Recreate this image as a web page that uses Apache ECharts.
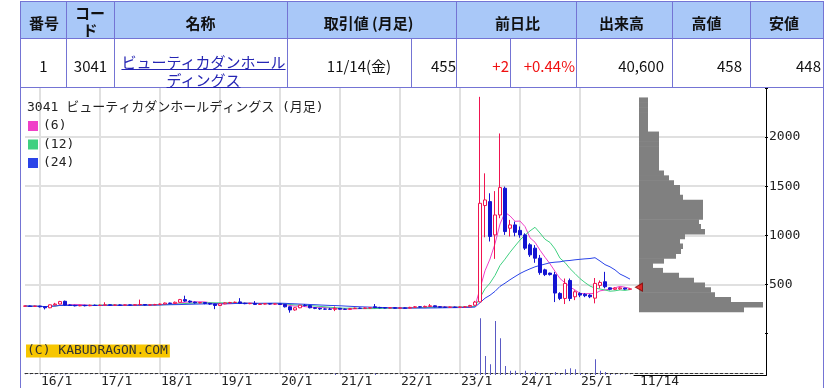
<!DOCTYPE html>
<html><head><meta charset="utf-8">
<script src="https://cdn.jsdelivr.net/npm/echarts@6/dist/echarts.min.js"></script>
<style>
html,body{margin:0;padding:0;background:#fff;}
#wrap{position:relative;width:828px;height:388px;overflow:hidden;font-family:"Noto Sans CJK JP","Noto Sans",sans-serif;}
#chart{position:absolute;left:0;top:0;width:828px;height:388px;}
.hb{position:absolute;left:21px;top:2px;width:802px;height:36px;background:#a9c8f8;}
.b{position:absolute;background:#7474d4;}
.t{position:absolute;white-space:nowrap;font-size:15px;line-height:18px;color:#111;}
.h{font-weight:bold;}
.c{transform:translateX(-50%);text-align:center;}
.r{text-align:right;}
.red{color:#f01010;}
.lnk{color:#2626b4;text-decoration:underline;}
</style></head><body>
<div id="wrap">
<div id="chart"></div>
<div class="hb"></div>
<div class="b" style="left:20px;top:1px;width:804px;height:1px"></div>
<div class="b" style="left:20px;top:38px;width:804px;height:1px"></div>
<div class="b" style="left:20px;top:87px;width:804px;height:1px"></div>
<div class="b" style="left:20px;top:1px;width:1px;height:387px"></div>
<div class="b" style="left:823px;top:1px;width:1px;height:387px"></div>
<div class="b" style="left:66px;top:1px;width:1px;height:87px"></div>
<div class="b" style="left:114px;top:1px;width:1px;height:87px"></div>
<div class="b" style="left:287px;top:1px;width:1px;height:87px"></div>
<div class="b" style="left:456px;top:1px;width:1px;height:87px"></div>
<div class="b" style="left:576px;top:1px;width:1px;height:87px"></div>
<div class="b" style="left:672px;top:1px;width:1px;height:87px"></div>
<div class="b" style="left:750px;top:1px;width:1px;height:87px"></div>
<div class="b" style="left:411px;top:38px;width:1px;height:50px"></div>
<div class="b" style="left:510px;top:38px;width:1px;height:50px"></div>

<div class="t h c" style="left:44px;top:14px">番号</div>
<div class="t h c" style="left:90px;top:4px;line-height:17px">コー<br>ド</div>
<div class="t h c" style="left:200.5px;top:14px">名称</div>
<div class="t h c" style="left:368.5px;top:14px">取引値 (月足)</div>
<div class="t h c" style="left:517.5px;top:14px">前日比</div>
<div class="t h c" style="left:621.5px;top:14px">出来高</div>
<div class="t h c" style="left:706.5px;top:14px">高値</div>
<div class="t h c" style="left:784px;top:14px">安値</div>

<div class="t c" style="left:43.5px;top:57px">1</div>
<div class="t c" style="left:90.5px;top:57px">3041</div>
<div class="t c lnk" style="left:203.5px;top:53px">ビューティカダンホール<br>ディングス</div>
<div class="t c" style="left:359px;top:57px">11/14(金)</div>
<div class="t r" style="right:372px;top:57px">455</div>
<div class="t r red" style="right:319px;top:57px">+2</div>
<div class="t r red" style="right:253px;top:57px">+0.44%</div>
<div class="t r" style="right:164px;top:57px">40,600</div>
<div class="t r" style="right:86px;top:57px">458</div>
<div class="t r" style="right:7px;top:57px">448</div>
</div>
<script>
// ---- data (monthly candles from 2015/10) ----
const startYear = 2015, startMonth = 10;
const opens = [
 278,280,276,279,272,262,292,300,328,290,
 286,282,286,283,288,285,288,292,288,290,
 288,291,289,293,295,290,292,295,300,310,
 306,318,345,330,320,312,315,306,300,285,
 302,312,316,322,308,304,306,296,300,304,
 300,302,296,272,240,262,288,284,262,256,
 250,248,246,256,248,246,254,258,256,260,
 272,264,262,260,262,258,260,258,266,272,
 270,276,282,272,268,266,268,266,270,272,
 288,322,1303,1343,1004,1207,1479,1072,1106,1050,
 1004,903,869,767,648,615,598,408,357,540,
 374,408,400,391,360,490,527,465,450,455,
 462,450];
const closes = [
 280,276,279,272,262,292,300,325,290,286,
 282,286,283,288,285,288,292,288,290,288,
 291,289,293,295,290,292,295,300,310,306,
 318,345,330,320,312,315,306,300,285,302,
 312,316,318,308,304,306,296,300,304,300,
 302,296,272,240,262,288,284,262,256,250,
 248,246,256,248,246,254,258,256,260,262,
 264,262,260,262,258,260,258,266,272,270,
 276,282,272,268,266,268,266,270,272,285,
 320,1326,1360,988,1207,1486,1038,1106,1030,1004,
 869,801,767,620,600,600,412,357,510,357,
 425,391,385,374,510,520,476,450,462,465,
 452,455];
const lows = [
 272,270,270,265,245,258,285,296,285,280,
 276,278,276,278,280,280,284,282,282,282,
 283,284,285,287,285,286,288,290,296,300,
 302,314,322,312,305,306,298,292,248,280,
 298,306,310,300,298,298,290,292,295,295,
 294,290,265,212,232,258,276,256,248,240,
 242,242,228,242,240,242,250,250,252,254,
 258,256,255,255,252,253,252,254,262,264,
 266,270,268,262,260,260,260,260,264,268,
 284,318,980,937,760,1174,1004,988,990,975,
 850,780,720,598,585,590,320,340,300,330,
 340,370,370,360,307,460,460,440,442,445,
 445,448];
const highs = [
 285,284,284,283,275,295,312,332,335,296,
 292,292,292,294,295,296,318,298,296,297,
 296,296,300,345,300,298,302,306,316,314,
 326,352,385,338,325,322,320,312,304,310,
 318,322,326,360,314,312,330,306,310,308,
 308,306,300,276,268,292,300,290,268,262,
 256,262,275,260,254,260,264,264,266,268,
 300,272,268,268,266,266,265,272,280,278,
 284,300,286,278,274,274,274,276,280,292,
 332,2410,1631,1428,1450,2037,1496,1157,1140,1090,
 1020,920,900,800,660,620,628,420,560,560,
 440,420,410,400,565,540,628,470,470,472,
 466,458];
// monthly volume (units of 100k shares, estimated)
const volumes = [
 0.3,0.3,0.3,0.4,0.5,0.6,0.4,0.6,0.5,0.3,
 0.3,0.3,0.3,0.3,0.3,0.3,0.5,0.3,0.3,0.3,
 0.3,0.3,0.3,0.6,0.3,0.3,0.3,0.3,0.4,0.3,
 0.4,0.6,0.8,0.4,0.3,0.3,0.3,0.3,0.6,0.4,
 0.3,0.3,0.3,0.5,0.3,0.3,0.4,0.3,0.3,0.3,
 0.3,0.3,0.5,0.8,0.5,0.5,0.4,0.4,0.3,0.3,
 0.3,0.3,1.5,0.4,0.3,0.3,0.3,0.3,0.3,0.3,
 1.5,0.3,0.3,0.3,0.3,0.3,0.3,0.3,0.4,0.3,
 0.3,0.5,0.3,0.3,0.3,0.3,0.3,0.3,0.4,0.6,
 1.5,56.7,19,10.7,54,36.7,9,4.3,4.3,1.7,
 4.3,1.7,3,1.7,0.8,1,3,1,5.7,6.7,
 5.7,2,1,1,15.7,4.3,3,1,0.8,0.8,
 0.6,0.3];
// volume-by-price profile, bins of 50 from 0 to 2500
const profileStep = 50;
const profileVolume = [
 0,0,0,0,105,124,92,76,72,66,
 55,40,24,14,25,37,42,44,41,46,
 66,62,60,64,64,64,64,44,41,41,
 35,30,25,20,20,20,20,20,20,20,
 20,9,9,9,9,9,9,9,0,0];
const yTickLabels = [500,1000,1500,2000];
const maPeriods = [6,12,24];
const maNames = ['(6)','(12)','(24)'];
const maColors = ['#f040c8','#40d080','#2a44e8'];
const dateLabel = '11/14';
const chartTitle = '3041 ビューティカダンホールディングス (月足)';
const copyright = '(C) KABUDRAGON.COM';
const totalSlots = 149;

// ---- build ----
const cats = [];
for (let i = 0; i < totalSlots; i++) {
  if (i < closes.length) {
    const m = startMonth - 1 + i;
    cats.push((startYear + Math.floor(m / 12)) + '/' + (m % 12 + 1));
  } else cats.push('');
}
const isJan = v => typeof v === 'string' && /\/1$/.test(v);
const ohlc = opens.map((o, i) => [o, closes[i], lows[i], highs[i]]);
function movingAverage(n) {
  return closes.map((c, i) => {
    const s = Math.max(0, i - n + 1);
    let sum = 0;
    for (let j = s; j <= i; j++) sum += closes[j];
    return +(sum / (i - s + 1)).toFixed(1);
  });
}
const profileData = profileVolume.map((v, k) => [k * profileStep, v]);
const mono = '"DejaVu Sans Mono","Noto Sans CJK JP",monospace';

const chart = echarts.init(document.getElementById('chart'), null, {renderer: 'canvas'});
const option = {
  animation: false,
  backgroundColor: 'transparent',
  textStyle: {fontFamily: mono},
  title: [
    {text: chartTitle, left: 27, top: 101, padding: 0,
     textStyle: {fontFamily: mono, fontSize: 13, fontWeight: 'normal', color: '#222', lineHeight: 14}},
    {text: copyright, left: 26, top: 345, padding: [0, 2, 0, 1], backgroundColor: '#f7c600',
     textStyle: {fontFamily: mono, fontSize: 13, fontWeight: 'normal', color: '#333', lineHeight: 12}}
  ],
  legend: {
    left: 28, top: 119, orient: 'vertical', icon: 'rect', itemWidth: 10, itemHeight: 10,
    itemGap: 4.5, padding: 0, selectedMode: false,
    textStyle: {fontFamily: mono, fontSize: 13, color: '#222', lineHeight: 14},
    data: maNames.map((n, k) => ({name: n, itemStyle: {color: maColors[k]}}))
  },
  grid: [
    {left: 25, right: 63, top: 88, bottom: 54.5},
    {left: 25, right: 63, top: 315, bottom: 13},
    {left: 639, right: 63, top: 88, bottom: 54.5},
    {left: 634, right: 61.5, top: 88, bottom: 13},
    {left: 25.5, right: 62.5, top: 315, bottom: 13}
  ],
  xAxis: [
    {gridIndex: 0, type: 'category', data: cats, boundaryGap: false,
     axisLine: {show: false}, axisTick: {show: false}, axisLabel: {show: false},
     splitLine: {show: true, interval: (i, v) => isJan(v), lineStyle: {color: '#e0e0e0', width: 2}}},
    {gridIndex: 1, type: 'category', data: cats, boundaryGap: false,
     axisLine: {show: true, onZero: false, lineStyle: {color: '#333', width: 1, type: [3, 2]}},
     axisTick: {show: false},
     axisLabel: {show: true, interval: 0, align: 'left', margin: 2, padding: [0, 0, 0, 1],
       fontFamily: mono, fontSize: 13, color: '#222',
       formatter: v => isJan(v) ? v.slice(2, 4) + '/1' : ''},
     splitLine: {show: true, interval: (i, v) => isJan(v), lineStyle: {color: '#e0e0e0', width: 2}}},
    {gridIndex: 2, type: 'value', min: 0, max: 126, interval: 126, offset: 41.5,
     axisLine: {show: false, onZero: false}, axisTick: {show: false}, splitLine: {show: false},
     axisLabel: {show: true, align: 'left', margin: 2, padding: [0, 0, 0, 1],
       fontFamily: mono, fontSize: 13, color: '#222',
       formatter: v => v === 0 ? dateLabel : ''}},
    {gridIndex: 3, type: 'value', min: 0, max: 1,
     axisLine: {show: true, onZero: false, lineStyle: {color: '#000', width: 1}},
     axisTick: {show: false}, axisLabel: {show: false}, splitLine: {show: false}},
    {gridIndex: 4, type: 'category', data: cats, boundaryGap: false, show: false}
  ],
  yAxis: [
    {gridIndex: 0, type: 'value', position: 'right', min: 0, max: 2500, interval: 500,
     axisLine: {show: false, onZero: false},
     axisTick: {show: true, length: 3, lineStyle: {color: '#000'}},
     axisLabel: {margin: 4, fontFamily: mono, fontSize: 13, color: '#222',
       formatter: v => yTickLabels.includes(v) ? String(v) : ''},
     splitLine: {show: true, lineStyle: {width: 2,
       color: ['rgba(0,0,0,0)', '#e0e0e0', '#e0e0e0', '#e0e0e0', '#e0e0e0', 'rgba(0,0,0,0)']}}},
    {gridIndex: 1, type: 'value', min: 0, max: 60, show: false},
    {gridIndex: 2, type: 'value', min: 0, max: 2500, show: false},
    {gridIndex: 3, type: 'value', position: 'right', min: 0, max: 1,
     axisLine: {show: true, onZero: false, lineStyle: {color: '#000', width: 1}},
     axisTick: {show: false}, axisLabel: {show: false}, splitLine: {show: false}},
    {gridIndex: 4, type: 'value', min: 0, max: 60, show: false}
  ],
  series: [
    ...maPeriods.map((n, k) => ({
      name: maNames[k], type: 'line', xAxisIndex: 0, yAxisIndex: 0,
      data: movingAverage(n), showSymbol: false, symbol: 'none', clip: false, z: 2,
      lineStyle: {color: maColors[k], width: 1}, itemStyle: {color: maColors[k]}
    })),
    {type: 'candlestick', xAxisIndex: 0, yAxisIndex: 0, data: ohlc, barWidth: 4, clip: false, z: 3,
     itemStyle: {color: '#ffffff', color0: '#1414d2', borderColor: '#f01450', borderColor0: '#1414d2', borderWidth: 1}},
    {type: 'bar', xAxisIndex: 4, yAxisIndex: 4, data: volumes, barWidth: 1,
     itemStyle: {color: '#5a5ac4'}},
    {type: 'custom', xAxisIndex: 2, yAxisIndex: 2, data: profileData, z: 4,
     encode: {x: 1, y: 0},
     renderItem: (params, api) => {
       const lo = api.value(0), w = api.value(1);
       if (!w) return null;
       const p0 = api.coord([0, lo]);
       const p1 = api.coord([w, lo + profileStep]);
       return {type: 'rect',
         shape: {x: p0[0], y: p1[1] - 0.3, width: p1[0] - p0[0], height: p0[1] - p1[1] + 0.6},
         style: {fill: '#808080'}};
     }},
    {type: 'scatter', xAxisIndex: 2, yAxisIndex: 2, data: [[0, closes[closes.length - 1]]],
     symbol: 'triangle', symbolRotate: 90, symbolSize: [8, 7], z: 6,
     itemStyle: {color: '#ee1111', borderColor: '#880000', borderWidth: 1}}
  ]
};
chart.setOption(option);
</script>
</body></html>
